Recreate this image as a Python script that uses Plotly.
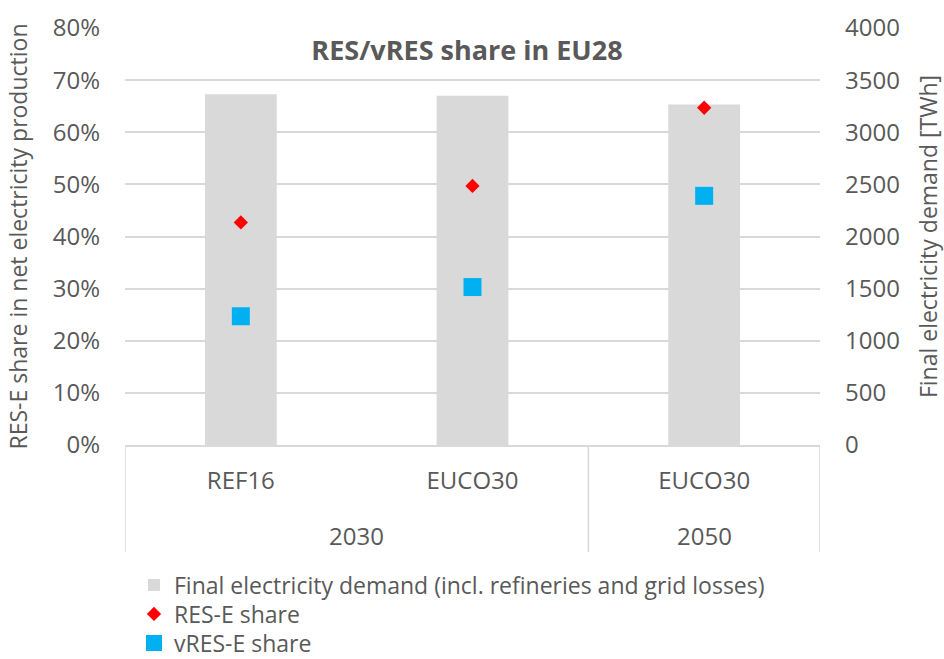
import plotly.graph_objects as go

scenarios = ["REF16", "EUCO30", "EUCO30"]
years = ["2030", "2030", "2050"]
year_groups = ["2030", "2050"]
year_centers = [0.5, 2.0]
demand_twh = [3365, 3350, 3265]
res_share = [0.427, 0.497, 0.647]
vres_share = [0.247, 0.303, 0.478]

x = list(range(len(scenarios)))
FONT = "Open Sans"
GREY = "#595959"
FS = 24
LEG_FS = 23
PLOT_H = 659 - 28 - 214

fig = go.Figure()
fig.add_trace(go.Bar(
    x=x, y=demand_twh, yaxis="y", width=0.31,
    marker=dict(color="#d9d9d9", line=dict(width=0)),
    name="Final electricity demand (incl. refineries and grid losses)",
    legend="legend",
))
fig.add_trace(go.Scatter(
    x=x, y=res_share, mode="markers", yaxis="y2",
    marker=dict(symbol="diamond", color="#ff0000", size=11, line=dict(width=0)),
    name="RES-E share", legend="legend2",
))
fig.add_trace(go.Scatter(
    x=x, y=vres_share, mode="markers", yaxis="y2",
    marker=dict(symbol="square", color="#00b0f0", size=18, line=dict(width=0)),
    name="vRES-E share", legend="legend3",
))

for yr, xc in zip(year_groups, year_centers):
    fig.add_annotation(x=xc, y=-(535 - 445) / PLOT_H, xref="x", yref="paper", text=yr,
                       showarrow=False, font=dict(size=FS, color=GREY, family=FONT),
                       yanchor="middle")

for xd in [-0.5, 1.5, 2.5]:
    fig.add_shape(type="line", x0=xd, x1=xd, xref="x", yref="paper",
                  y0=0, y1=-(552 - 445) / PLOT_H, line=dict(color="#d9d9d9", width=1.5))


def legend_at(yc):
    return dict(x=(134 - 125) / 695, y=-(yc - 445) / PLOT_H, xanchor="left", yanchor="middle",
                font=dict(size=LEG_FS, color=GREY, family=FONT),
                itemwidth=30, bgcolor="rgba(0,0,0,0)")


fig.update_layout(
    width=944, height=659,
    margin=dict(l=125, r=124, t=28, b=214, autoexpand=False),
    paper_bgcolor="white", plot_bgcolor="white",
    font=dict(family=FONT, size=FS, color=GREY),
    showlegend=True,
    legend=legend_at(585),
    legend2=legend_at(614),
    legend3=legend_at(643),
    xaxis=dict(range=[-0.5, 2.5], tickmode="array", tickvals=x, ticktext=scenarios,
               showgrid=False, zeroline=False, ticks="", ticklabelstandoff=13,
               showline=True, linecolor="#d9d9d9", linewidth=1.5, automargin=False,
               tickfont=dict(size=FS, color=GREY)),
    yaxis=dict(range=[0, 4000], dtick=500, side="right", showgrid=True,
               gridcolor="#d9d9d9", gridwidth=1.5, zeroline=False, automargin=False,
               title=dict(text="Final electricity demand [TWh]",
                          font=dict(size=23, color=GREY), standoff=26),
               tickfont=dict(size=FS, color=GREY), ticklabelstandoff=24),
    yaxis2=dict(range=[0, 0.8], dtick=0.1, tickformat=".0%", overlaying="y", side="left",
                showgrid=False, zeroline=False, automargin=False,
                title=dict(text="RES-E share in net electricity production",
                           font=dict(size=23, color=GREY), standoff=18),
                tickfont=dict(size=FS, color=GREY), ticklabelstandoff=24),
    title=dict(text="<b>RES/vRES share in EU28</b>", x=467 / 944, xanchor="center",
               y=1 - 51 / 659, yanchor="middle", font=dict(size=27, color=GREY, family=FONT)),
)

fig.write_html("out.html", config={"displayModeBar": False},
               post_script="document.body.style.margin='0';")
